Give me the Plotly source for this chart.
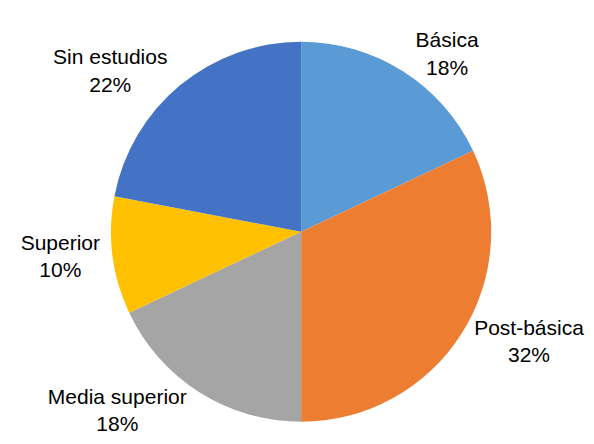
import plotly.graph_objects as go

labels = ["Básica", "Post-básica", "Media superior", "Superior", "Sin estudios"]
values = [18, 32, 18, 10, 22]
colors = ["#5B9BD5", "#ED7D31", "#A5A5A5", "#FFC000", "#4472C4"]

fig = go.Figure(go.Pie(
    labels=labels,
    values=values,
    sort=False,
    direction="clockwise",
    rotation=0,
    marker=dict(colors=colors, line=dict(color="white", width=0)),
    texttemplate="%{label}<br>%{percent:.0%}",
    textposition="outside",
    textfont=dict(family="Liberation Sans Narrow, Arial Narrow, Liberation Sans, Arial", size=21, color="#000000"),
    hoverinfo="label+percent",
    domain=dict(x=[0.1735, 0.8135], y=[0.068, 0.924]),
    showlegend=False,
))
fig.update_layout(
    width=594, height=444,
    margin=dict(l=0, r=0, t=0, b=0),
    paper_bgcolor="white",
    plot_bgcolor="white",
)
fig.write_html("out.html")
